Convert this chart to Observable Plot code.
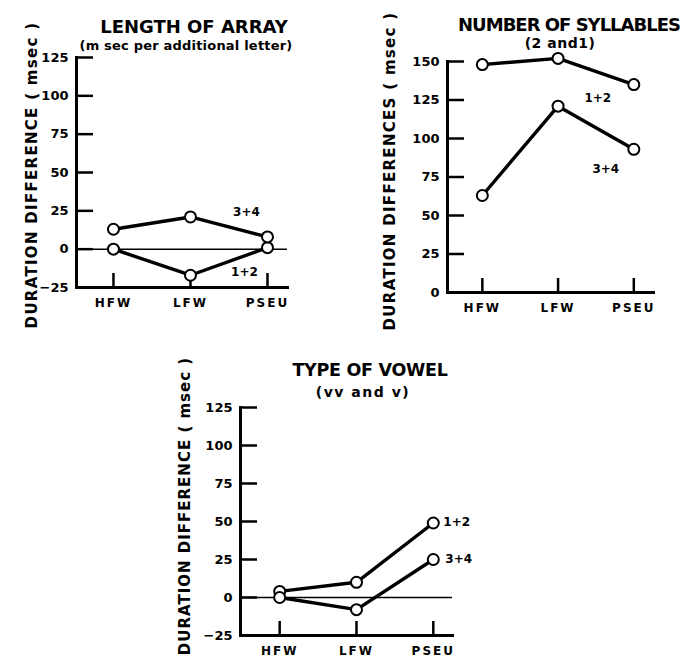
<!DOCTYPE html>
<html><head><meta charset="utf-8">
<script src="https://cdn.jsdelivr.net/npm/d3@7"></script>
<script src="https://cdn.jsdelivr.net/npm/@observablehq/plot@0.6"></script>
<style>
body{margin:0;background:#fff;}
#root{position:relative;width:688px;height:658px;overflow:hidden;font-family:"DejaVu Sans",sans-serif;background:#fff;}
.panel{position:absolute;}
.t{position:absolute;transform:translate(-50%,-50%);white-space:nowrap;font-weight:bold;color:#000;line-height:1;}
.yl{position:absolute;transform:translate(-50%,-50%) rotate(-90deg);white-space:nowrap;font-weight:bold;color:#000;font-size:15px;line-height:1;}
[aria-label="x-axis tick label"] text{letter-spacing:2px;}
</style></head><body><div id="root"></div>
<script>
const categories = ["HFW", "LFW", "PSEU"];
const seriesNames = ["1+2", "3+4"];

const lengthTitle = "LENGTH OF ARRAY";
const lengthSub = "(m sec per additional letter)";
const lengthYLabel = "DURATION DIFFERENCE ( msec )";
const lengthTicks = [-25, 0, 25, 50, 75, 100, 125];
const length12 = [0, -17, 1];
const length34 = [13, 21, 8];

const syllTitle = "NUMBER OF SYLLABLES";
const syllSub = "(2 and1)";
const syllYLabel = "DURATION DIFFERENCES ( msec )";
const syllTicks = [0, 25, 50, 75, 100, 125, 150];
const syll12 = [148, 152, 135];
const syll34 = [63, 121, 93];

const vowelTitle = "TYPE OF VOWEL";
const vowelSub = "(vv and v)";
const vowelYLabel = "DURATION DIFFERENCE ( msec )";
const vowelTicks = [-25, 0, 25, 50, 75, 100, 125];
const vowel12 = [4, 10, 49];
const vowel34 = [0, -8, 25];

const root = document.getElementById("root");

function addText(cls, txt, x, y, size, spacing) {
  const d = document.createElement("div");
  d.className = cls;
  d.textContent = txt;
  d.style.left = x + "px";
  d.style.top = y + "px";
  if (size) d.style.fontSize = size + "px";
  if (spacing != null) d.style.letterSpacing = spacing + "px";
  root.appendChild(d);
}

function panel(cfg) {
  const rows = [];
  [cfg.s12, cfg.s34].forEach((vals, si) => {
    vals.forEach((v, i) => rows.push({i, v, s: seriesNames[si]}));
  });
  const last = rows.filter(d => d.i === 2);
  const lab = (name) => last.filter(d => d.s === name);
  const plot = Plot.plot({
    width: cfg.width, height: cfg.height,
    marginLeft: cfg.mL, marginRight: cfg.mR, marginTop: cfg.mT, marginBottom: cfg.mB,
    x: {type: "linear", domain: cfg.xDomain, axis: null},
    y: {domain: cfg.yDomain, axis: null},
    style: {fontFamily: "DejaVu Sans, sans-serif", fontWeight: "bold", fontSize: "13px", color: "#000", background: "#fff", overflow: "visible"},
    marks: [
      Plot.ruleY([0], {strokeWidth: 1.5}),
      Plot.axisY({ticks: cfg.yTicks, tickSize: -17, tickPadding: 25, strokeWidth: 2.5, label: null, fontSize: 13, fontWeight: "bold"}),
      Plot.axisX({ticks: [0, 1, 2], tickFormat: i => categories[i], tickSize: -14, tickPadding: 25, strokeWidth: 2.5, label: null, fontSize: 12, fontWeight: "bold"}),
      Plot.frame({anchor: "left", strokeWidth: 3}),
      Plot.frame({anchor: "bottom", strokeWidth: 3}),
      Plot.line(rows, {x: "i", y: "v", z: "s", stroke: "#000", strokeWidth: 3.4}),
      Plot.dot(rows, {x: "i", y: "v", r: 5.5, fill: "#fff", stroke: "#000", strokeWidth: 2}),
      Plot.text(lab("1+2"), {x: "i", y: "v", text: "s", dx: cfg.l12[0], dy: cfg.l12[1], textAnchor: cfg.anchor, fontSize: 12, fontWeight: "bold"}),
      Plot.text(lab("3+4"), {x: "i", y: "v", text: "s", dx: cfg.l34[0], dy: cfg.l34[1], textAnchor: cfg.anchor, fontSize: 12, fontWeight: "bold"})
    ]
  });
  const wrap = document.createElement("div");
  wrap.className = "panel";
  wrap.style.left = cfg.left + "px";
  wrap.style.top = cfg.top + "px";
  wrap.appendChild(plot);
  root.appendChild(wrap);
  addText("t", cfg.title, cfg.titlePos[0], cfg.titlePos[1], cfg.titleFont[0], cfg.titleFont[1]);
  addText("t", cfg.sub, cfg.subPos[0], cfg.subPos[1], cfg.subFont[0], cfg.subFont[1]);
  addText("yl", cfg.ylabel, cfg.ylPos[0], cfg.ylPos[1], 15, cfg.ylSpacing);
}

panel({left: 0, top: 0, width: 300, height: 330, mL: 76, mR: 13, mT: 57, mB: 43,
  xDomain: [-0.48, 2.26], yDomain: [-25, 125], yTicks: lengthTicks,
  s12: length12, s34: length34, l12: [-23, 25], l34: [-21, -25], anchor: "middle",
  title: lengthTitle, sub: lengthSub, ylabel: lengthYLabel,
  titleFont: [18, 0], subFont: [13, 0.2], ylSpacing: 1.3,
  titlePos: [194, 27], subPos: [186, 45], ylPos: [32, 175]});

panel({left: 340, top: 0, width: 348, height: 330, mL: 107, mR: 35, mT: 61, mB: 38,
  xDomain: [-0.46, 2.26], yDomain: [0, 150], yTicks: syllTicks,
  s12: syll12, s34: syll34, l12: [-36, 14], l34: [-28, 20], anchor: "middle",
  title: syllTitle, sub: syllSub, ylabel: syllYLabel,
  titleFont: [18, -1], subFont: [14, 0.5], ylSpacing: 1.3,
  titlePos: [569, 25], subPos: [560, 43], ylPos: [390, 171]});

panel({left: 160, top: 330, width: 340, height: 328, mL: 80, mR: 48, mT: 77, mB: 23,
  xDomain: [-0.51, 2.25], yDomain: [-25, 125], yTicks: vowelTicks,
  s12: vowel12, s34: vowel34, l12: [10, -1], l34: [12, 0], anchor: "start",
  title: vowelTitle, sub: vowelSub, ylabel: vowelYLabel,
  titleFont: [17.5, -0.3], subFont: [14, 1.5], ylSpacing: 1,
  titlePos: [370, 371], subPos: [363, 392], ylPos: [185, 506]});
</script>
</body></html>
